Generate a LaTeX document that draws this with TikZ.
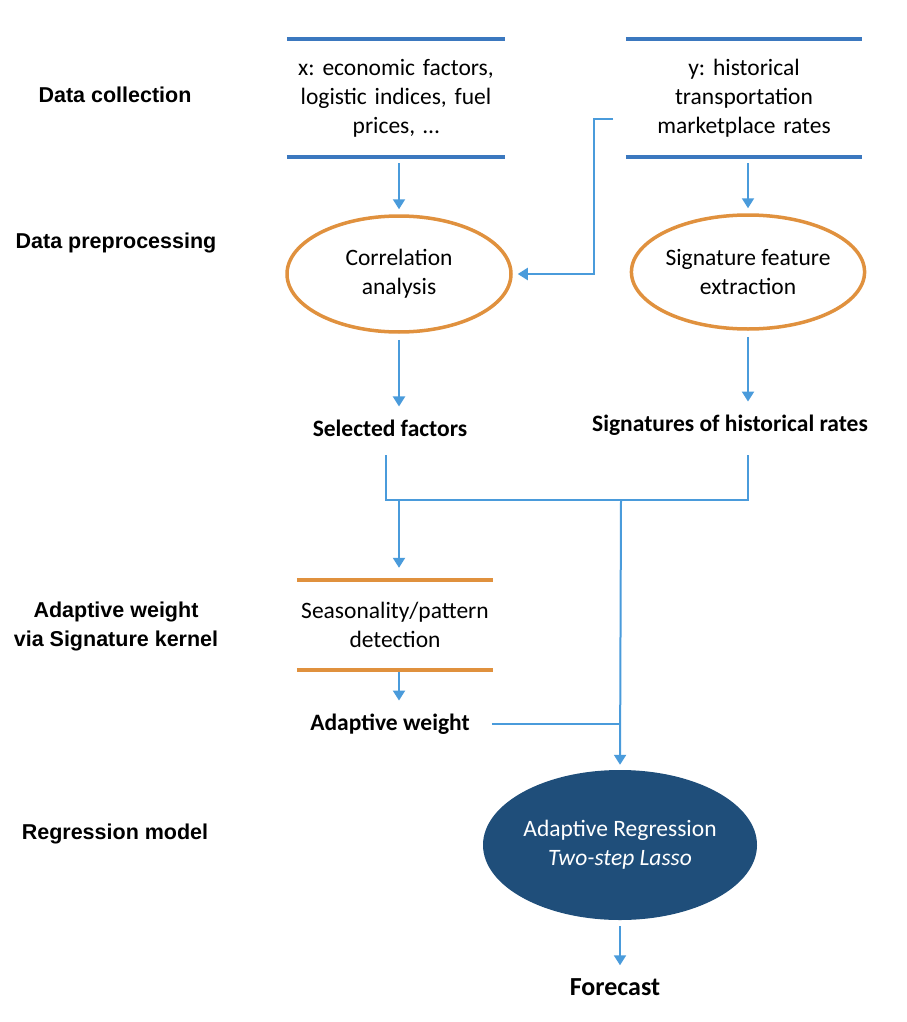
\documentclass[tikz,border=0pt]{standalone}
\usepackage{fontspec}
\setmainfont{Carlito}
\newfontfamily\stagefont{Liberation Sans}
\usetikzlibrary{shapes.geometric, arrows.meta, positioning, calc}
\definecolor{FlowBlue}{HTML}{4A9BDB}
\definecolor{BoxBlue}{HTML}{3B78BF}
\definecolor{ProcOrange}{HTML}{E0913E}
\definecolor{ModelNavy}{HTML}{1F4E7A}
\frenchspacing

\begin{document}
\begin{tikzpicture}[x=1pt, y=-1pt, >={Triangle[length=10pt, width=12pt]},
        datasrc/.style={rectangle, inner sep=0pt, minimum height=118pt, align=center, font=\fontsize{23.5pt}{29pt}\selectfont},
        procstep/.style={ellipse, draw=ProcOrange, line width=3.5pt, inner sep=0pt, align=center, font=\fontsize{23.5pt}{29pt}\selectfont},
        steplabel/.style={inner sep=8pt, font=\fontsize{23.5pt}{29pt}\selectfont\bfseries},
        stagelabel/.style={align=center, font=\fontsize{21.5pt}{29pt}\stagefont\bfseries},
        srcline/.style={line width=4pt, BoxBlue},
        seasonline/.style={line width=4pt, ProcOrange},
        link/.style={line width=2pt, FlowBlue},
        arrow/.style={->, line width=2pt, FlowBlue, shorten <=6pt, shorten >=5pt}]

        \useasboundingbox (0,0) rectangle (906,1022);

        % stage labels on the left
        \node[stagelabel] (st1) at (115,95) {Data collection};
        \node[stagelabel] (st2) at (116,243) {Data preprocessing};
        \node[stagelabel] (st3) at (116,626) {Adaptive weight\\via Signature kernel};
        \node[stagelabel] (st4) at (115,834) {Regression model};

        % data sources
        \node[datasrc, text width=218pt] (xbox) at (396,98) {x: economic factors,\\logistic indices, fuel\\prices, \dots};
        \node[datasrc, text width=236pt] (ybox) at (744,98) {y: historical\\transportation\\marketplace rates};
        \draw[srcline] (xbox.north west) -- (xbox.north east);
        \draw[srcline] (xbox.south west) -- (xbox.south east);
        \draw[srcline] (ybox.north west) -- (ybox.north east);
        \draw[srcline] (ybox.south west) -- (ybox.south east);

        % preprocessing
        \node[procstep, minimum width=224pt, minimum height=116pt] (corr) at (399,274) {Correlation\\analysis};
        \node[procstep, minimum width=230pt, minimum height=114pt] (sigx) at (748,272) {Signature feature\\extraction};

        \node[steplabel] (sel) at (390,428) {Selected factors};
        \node[steplabel] (sigr) at (730,425) {Signatures of historical rates};

        \draw[arrow] (xbox.south -| corr.north) -- (corr.north);
        \draw[arrow] (ybox.south -| sigx.north) -- (sigx.north);
        \coordinate (ytap) at (613,119);
        \draw[arrow, shorten <=0pt] (ytap) -- ++(-19,0) |- (corr.east);
        \draw[arrow] (corr.south) -- (corr.south |- sel.north);
        \draw[arrow] (sigx.south) -- (sigx.south |- sigr.north);

        % merge of both branches
        \coordinate (mergeL) at (386,455);
        \coordinate (mergeR) at (748,455);
        \coordinate (merge) at (621,500);
        \draw[link] (mergeL) |- (merge) -| (mergeR);

        % adaptive weight
        \node[datasrc, text width=196pt, minimum height=90pt] (season) at (395,625) {Seasonality/pattern\\detection};
        \draw[seasonline] (season.north west) -- (season.north east);
        \draw[seasonline] (season.south west) -- (season.south east);
        \node[steplabel] (aw) at (390,724) {Adaptive weight};

        \draw[arrow, shorten <=0pt, shorten >=12pt] (corr.south |- merge) -- (corr.south |- season.north);
        \draw[arrow, shorten <=2pt] (corr.south |- season.south) -- (corr.south |- aw.north);
        \draw[link, shorten <=14pt] (aw.east) -- (aw.east -| merge);

        % regression model
        \node[ellipse, fill=ModelNavy, text=white, inner sep=0pt, minimum width=274pt, minimum height=150pt, align=center, font=\fontsize{23.5pt}{29pt}\selectfont] (reg) at (620,845) {Adaptive Regression\\\textit{Two-step Lasso}};
        \node[steplabel, font=\fontsize{26pt}{30pt}\selectfont\bfseries] (fc) at (615,987) {Forecast};

        \draw[arrow, shorten <=0pt] (merge) -- (reg.north);
        \draw[arrow] (reg.south) -- (reg.south |- fc.north);
    \end{tikzpicture}
\end{document}
